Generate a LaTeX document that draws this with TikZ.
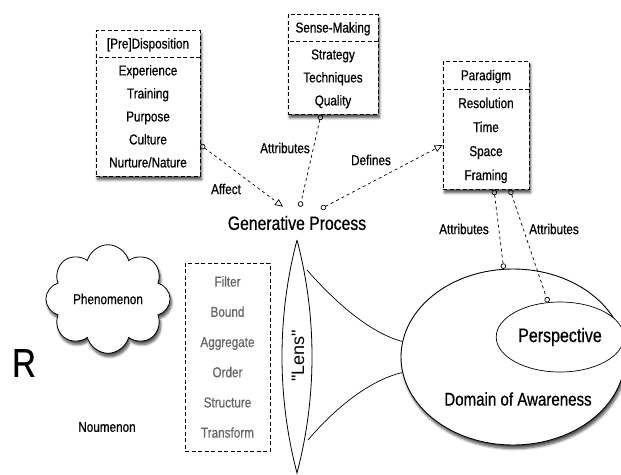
\documentclass[tikz,border=0pt]{standalone}
\usepackage{fontspec}
\setmainfont{Liberation Sans}[FakeStretch=0.82, FakeBold=0.6]
\newfontfamily\lensfont{Liberation Sans}
\usetikzlibrary{shapes.multipart, shapes.geometric, shapes.symbols, arrows.meta, shadows.blur, calc}
\newcommand{\boxfont}{\fontsize{14.3}{23}\selectfont}
\tikzstyle{softshadow} = [blur shadow={shadow xshift=1.5pt, shadow yshift=-3.5pt, shadow blur radius=2.5pt, shadow blur steps=6, shadow opacity=70}]
\tikzstyle{classbox} = [rectangle split, rectangle split parts=2, draw=black, line width=0.9pt, dash pattern=on 4pt off 2.5pt, fill=white, align=center, inner xsep=0pt, inner ysep=1.5pt, font=\boxfont, softshadow]
\tikzstyle{tag} = [font=\boxfont, inner sep=1pt]
\tikzstyle{biglabel} = [font=\fontsize{19.2}{22}\selectfont, inner sep=3pt]
\tikzstyle{region} = [ellipse, draw=black, line width=0.9pt, fill=white]
\tikzstyle{rel} = [dashed, line width=0.7pt, {Circle[open,length=5.5pt]}-{Triangle[open,length=8pt,width=7pt]}]
\tikzstyle{attr} = [dashed, line width=0.7pt, {Circle[open,length=5.5pt]}-{Circle[open,length=5.5pt]}]

\begin{document}
\begin{tikzpicture}[x=1pt, y=-1pt]
\useasboundingbox (0,0) rectangle (621,474);

% boxes on top
\node (dispo) [classbox, text width=104pt, anchor=north] at (148,30) {\strut[Pre]Disposition \nodepart{second} \strut Experience\\Training\\Purpose\\Culture\\Nurture/Nature\strut};
\node (sense) [classbox, text width=90pt, anchor=north] at (333,14) {\strut Sense-Making \nodepart{second} \strut Strategy\\Techniques\\Quality\strut};
\node (para) [classbox, text width=86pt, anchor=north, font=\fontsize{14.3}{24}\selectfont] at (486,61) {\strut Paradigm \nodepart{second} \strut Resolution\\Time\\Space\\Framing\strut};
\node (gen) [biglabel] at (297,223) {Generative Process};

% lower half
\node (dom) [region, minimum width=224pt, minimum height=176pt, softshadow] at (513,357) {};
\node (domtext) [font=\fontsize{18.4}{20}\selectfont] at (518,399) {Domain of Awareness};
\node (persp) [region, line width=0.7pt, minimum width=104pt, minimum height=70pt, font=\fontsize{19.5}{22}\selectfont] at (560,337) {Perspective};

\draw [line width=0.8pt, fill=white] (297,240) .. controls (277,316) and (277,397) .. (297,473) .. controls (317,397) and (317,316) .. (297,240);
\node (lens) [font=\lensfont\fontsize{18}{20}\selectfont, rotate=90] at (298,356) {"Lens"};
\coordinate (lensup) at (307,270);
\coordinate (lensdown) at (308,440);
\draw [line width=0.7pt] (lensup) .. controls (335,302) and (370,333) .. (dom.172);
\draw [line width=0.7pt] (lensdown) .. controls (335,408) and (370,380) .. (dom.188);

\node (phen) [cloud, cloud puffs=8, aspect=1.3, draw, line width=0.8pt, fill=white, minimum width=111pt, minimum height=92pt, font=\boxfont, softshadow] at (108,299) {Phenomenon};
\node (real) [font=\fontsize{40}{44}\selectfont] at (24,363) {R};
\node (noum) [tag] at (107,427) {Noumenon};
\node (ops) [draw, line width=0.9pt, dash pattern=on 4pt off 2.5pt, text=black!60, minimum width=85pt, minimum height=188pt, align=center, font=\fontsize{14.3}{30.2}\selectfont] at (227.5,357) {Filter\\Bound\\Aggregate\\Order\\Structure\\Transform};

% connectors
\draw [rel] ($(dispo.north east)+(0,115)$) -- ($(gen.north)+(-14,-6)$);
\draw [attr] ($(sense.south)+(-12,0)$) -- ($(gen.north)+(3,-6)$);
\draw [rel] ($(gen.north)+(24,-4)$) -- ($(para.north west)+(0,84)$);
\draw [attr] ($(para.south)+(8,0)$) -- (dom.96);
\draw [attr] ($(para.south)+(24,0)$) -- (persp.109);

\node (affect) [tag] at (226,189) {Affect};
\node (attrsense) [tag] at (285,148) {Attributes};
\node (defines) [tag] at (371,160) {Defines};
\node (attrdom) [tag] at (464,229) {Attributes};
\node (attrpersp) [tag] at (554,229) {Attributes};

\end{tikzpicture}
\end{document}
